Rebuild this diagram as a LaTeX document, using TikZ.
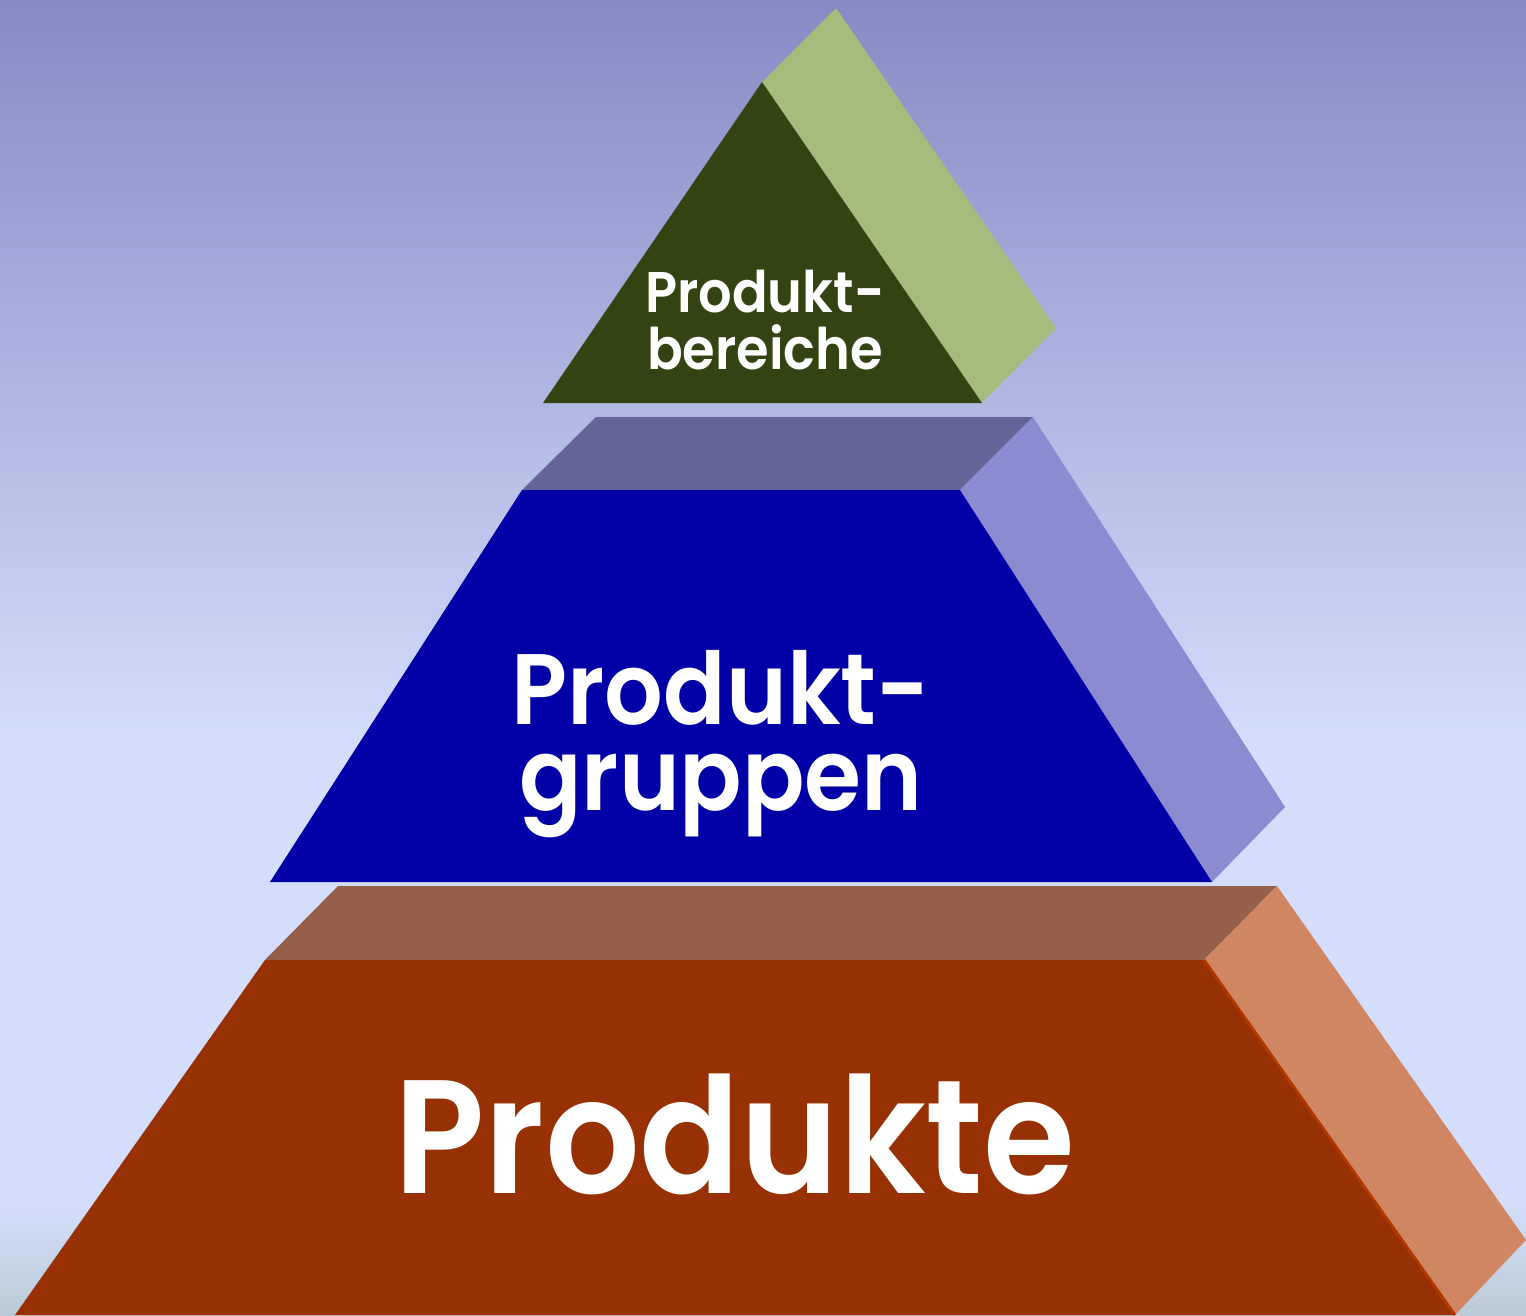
\documentclass[tikz,border=0pt]{standalone}
\usepackage{fontspec}
\setmainfont{Poppins}
\newfontfamily\labelfont{Poppins}[UprightFont={* SemiBold}, FakeStretch=0.92]
\definecolor{skytop}{RGB}{134,138,196}
\definecolor{skymid}{RGB}{212,222,252}
\definecolor{skylow}{RGB}{188,203,214}
\definecolor{olivefront}{RGB}{52,67,18}
\definecolor{oliveside}{RGB}{166,188,124}
\definecolor{bluefront}{RGB}{0,0,166}
\definecolor{bluetop}{RGB}{100,100,151}
\definecolor{blueside}{RGB}{139,139,210}
\definecolor{redfront}{RGB}{151,48,3}
\definecolor{redtop}{RGB}{150,95,73}
\definecolor{redside}{RGB}{208,134,98}
\definecolor{rededge}{RGB}{180,54,0}
\tikzset{
  label text/.style={text=white, inner sep=0pt, anchor=base, align=center}
}

\begin{document}
\begin{tikzpicture}
\useasboundingbox (0,0) rectangle (15.26,13.15);
% background
\shade[top color=skytop, bottom color=skymid] (0,5.65) rectangle (15.26,13.15);
\fill[skymid] (0,1.15) rectangle (15.26,5.65);
\shade[top color=skymid, bottom color=skylow] (0,0) rectangle (15.26,1.15);

% bottom level
\fill[redtop] (2.65,3.55) -- (3.38,4.29) -- (12.77,4.29) -- (12.04,3.55) -- cycle;
\fill[redside] (12.04,3.55) -- (12.77,4.29) -- (15.26,0.75) -- (14.55,0) -- cycle;
\fill[redfront] (2.65,3.55) -- (12.04,3.55) -- (14.55,0) -- (0.15,0) -- cycle;
\draw[rededge, line width=0.8pt] (12.04,3.55) -- (14.55,0);

% middle level
\fill[bluetop] (5.22,8.25) -- (5.96,8.98) -- (10.33,8.98) -- (9.60,8.25) -- cycle;
\fill[blueside] (9.60,8.25) -- (10.33,8.98) -- (12.85,5.08) -- (12.12,4.33) -- cycle;
\fill[bluefront] (5.22,8.25) -- (9.60,8.25) -- (12.12,4.33) -- (2.70,4.33) -- cycle;

% top level
\fill[oliveside] (7.62,12.33) -- (8.36,13.07) -- (10.56,9.87) -- (9.82,9.12) -- cycle;
\fill[olivefront] (7.62,12.33) -- (9.82,9.12) -- (5.43,9.12) -- cycle;

% labels
\node[label text, font=\labelfont\fontsize{16.3}{16.5}\selectfont] (bereiche) at (7.65,9.45) {Produkt-\\bereiche};
\node[label text, font=\labelfont\fontsize{28.5}{24.2}\selectfont] (gruppen) at (7.21,5.05) {Produkt-\\gruppen};
\node[label text, font=\labelfont\fontsize{46}{46}\selectfont] (produkte) at (7.35,1.22) {Produkte};
\end{tikzpicture}
\end{document}
